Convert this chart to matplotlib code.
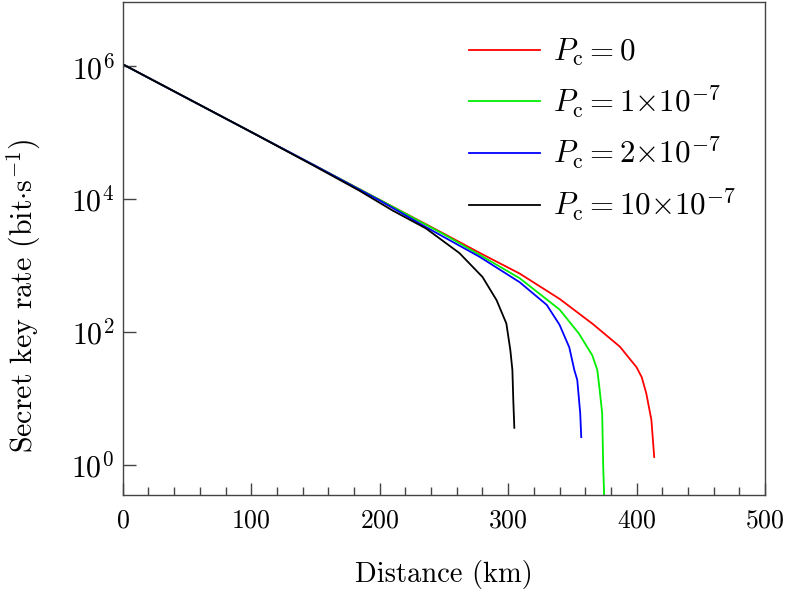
import numpy as np
import matplotlib
matplotlib.use("Agg")
from matplotlib import pyplot as plt
from matplotlib.ticker import LogLocator, MultipleLocator, NullLocator

plt.rcParams['font.family'] = 'cmr10'
plt.rcParams['mathtext.fontset'] = 'cm'
plt.rcParams['axes.formatter.use_mathtext'] = True
plt.rcParams['axes.unicode_minus'] = False

# distance (km) and log10 of secret key rate
d_0 = [0, 50, 100, 150, 200, 250, 278, 309, 340, 366, 387, 400, 404, 407.5, 411.5, 413.7]
r_0 = [6.03, 5.52, 5.01, 4.50, 3.99, 3.48, 3.19, 2.88, 2.50, 2.12, 1.78, 1.47, 1.32, 1.08, 0.68, 0.12]

d_1 = [0, 50, 100, 150, 200, 250, 278, 309, 340, 355, 365.5, 369.4, 371, 373.2, 374, 375]
r_1 = [6.03, 5.52, 5.01, 4.50, 3.99, 3.47, 3.16, 2.81, 2.34, 1.98, 1.65, 1.43, 1.17, 0.78, -0.03, -0.6]

d_2 = [0, 50, 100, 150, 200, 236, 278, 309, 330, 340, 347.6, 351.5, 353.8, 356.1, 356.9]
r_2 = [6.03, 5.52, 5.01, 4.50, 3.98, 3.58, 3.13, 2.75, 2.41, 2.11, 1.77, 1.43, 1.28, 0.78, 0.42]

d_10 = [0, 50, 100, 150, 184, 210, 236, 262, 280, 291, 298.6, 301.7, 303.3, 304, 304.8]
r_10 = [6.03, 5.52, 5.01, 4.49, 4.13, 3.83, 3.56, 3.19, 2.83, 2.48, 2.13, 1.73, 1.43, 0.98, 0.56]

labels = [r'$P_{\rm c}=0$', r'$P_{\rm c}=1{\times}10^{-7}$',
          r'$P_{\rm c}=2{\times}10^{-7}$', r'$P_{\rm c}=10{\times}10^{-7}$']
colors = ['#ff0000', '#00ee00', '#0000ff', '#000000']
series = [(d_0, r_0), (d_1, r_1), (d_2, r_2), (d_10, r_10)]

fig = plt.figure(figsize=(7.92, 5.92), dpi=100)
ax = fig.add_axes([0.155, 0.164, 0.811, 0.833])

for (d, r), c, lab in zip(series, colors, labels):
    ax.plot(d, 10 ** np.array(r), color=c, lw=1.3, label=lab)

ax.set_yscale('log')
ax.set_xlim(0, 500)
ax.set_ylim(10 ** -0.45, 10 ** 6.97)
ax.xaxis.set_major_locator(MultipleLocator(100))
ax.xaxis.set_minor_locator(MultipleLocator(20))
ax.yaxis.set_major_locator(LogLocator(base=100))
ax.yaxis.set_minor_locator(NullLocator())

ax.tick_params(which='both', direction='in', colors='#444444',
               labelcolor='black', width=1)
ax.tick_params(which='major', length=9)
ax.tick_params(which='minor', length=5.5)
ax.tick_params(axis='x', labelsize=18.5, pad=10)
ax.tick_params(axis='y', labelsize=21.5, pad=6)
for s in ax.spines.values():
    s.set_color('#444444')
    s.set_linewidth(1)

ax.set_xlabel('Distance (km)', fontsize=20.5, labelpad=20)
ax.set_ylabel(r'Secret key rate (bit$\cdot$s$^{-1}$)', fontsize=21.5)
ax.yaxis.set_label_coords(-0.124, 0.404)

ax.legend(loc='upper right', frameon=False, fontsize=22.3, handlelength=2.32,
          handletextpad=0.42, labelspacing=0.5, borderaxespad=0,
          bbox_to_anchor=(0.975, 0.955))

fig.savefig('out.png', dpi=100)
